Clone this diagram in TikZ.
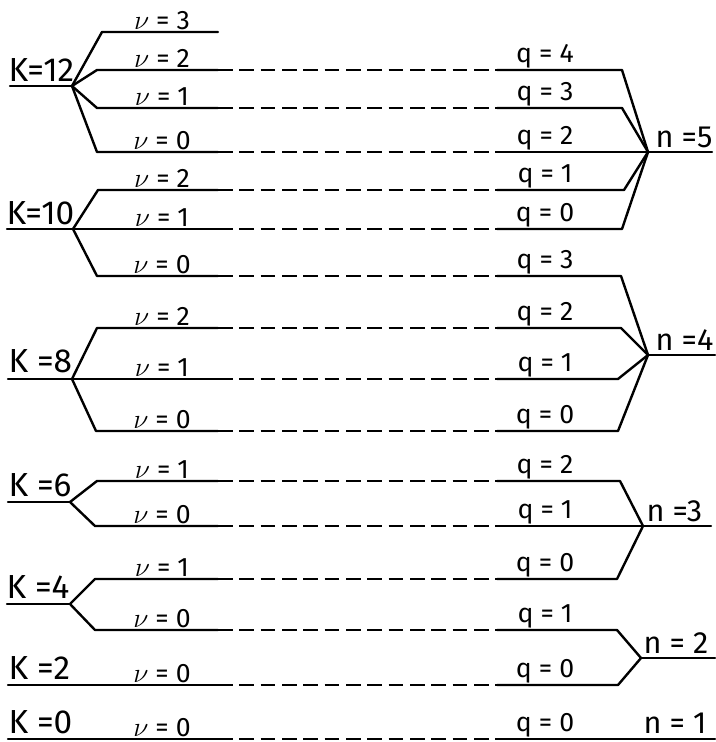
\documentclass[tikz,border=0pt]{standalone}
\usepackage{fontspec}
\setmainfont{Fira Sans}

\tikzset{
  branch/.style={line width=1.8pt, line cap=round, line join=round},
  dashline/.style={line width=1.4pt, dash pattern=on 11pt off 5pt},
  nulabel/.style={anchor=south, inner sep=1.5pt, font=\fontsize{20}{20}\selectfont},
  klabel/.style={anchor=south west, inner sep=1pt, font=\fontsize{25}{25}\selectfont},
  nlabel/.style={anchor=south west, inner sep=1pt, font=\fontsize{23}{23}\selectfont},
}

\begin{document}
\begin{tikzpicture}[x=0.75pt,y=-0.75pt]
    \useasboundingbox (0,0) rectangle (715,742);

    % Rows: index / height / left bend / right bend
    \foreach \r/\y/\a/\b in {1/70/97/622, 2/108/97/622, 3/152/97/622,
        4/190/98/624, 5/229/97/622, 6/276/97/621, 7/328/97/621,
        8/379/97/618, 9/431/96/618, 10/481/97/620, 11/526/95/620,
        12/579/95/617, 13/630/95/617, 14/685/95/618, 15/739/95/618}{
        \coordinate (bl\r) at (\a,\y);
        \coordinate (L\r) at (218,\y);
        \coordinate (R\r) at (497,\y);
        \coordinate (br\r) at (\b,\y);
        \draw[dashline] (L\r) -- (R\r);
    }

    % Row labels (nu on the left, q on the right)
    \foreach \r/\y/\nv/\qv in {1/70/2/4, 2/108/1/3, 3/152/0/2, 4/190/2/1,
        5/229/1/0, 6/276/0/3, 7/328/2/2, 8/379/1/1, 9/431/0/0, 10/481/1/2,
        11/526/0/1, 12/579/1/0, 13/630/0/1, 14/685/0/0, 15/739/0/0}{
        \node[nulabel] (nu\r) at (162,\y) {$\nu$ = \nv};
        \node[nulabel] (q\r) at (545,\y) {q = \qv};
    }

    % K = 12 (extra top branch nu = 3)
    \coordinate (K12) at (72,86);
    \coordinate (s12) at (10,86);
    \coordinate (bl0) at (102,32);
    \coordinate (L0) at (218,32);
    \node[nulabel] (nu0) at (162,32) {$\nu$ = 3};
    \draw[branch] (s12) -- (K12);
    \foreach \r in {0,...,3}
        \draw[branch] (K12) -- (bl\r) -- (L\r);
    \node[klabel] (k12) at (7,83) {K=12};

    % K = 10
    \coordinate (K10) at (73,229);
    \coordinate (s10) at (7,229);
    \draw[branch] (s10) -- (K10);
    \foreach \r in {4,5,6}
        \draw[branch] (K10) -- (bl\r) -- (L\r);
    \node[klabel] (k10) at (5,226) {K=10};

    % K = 8
    \coordinate (K8) at (72,379);
    \coordinate (s8) at (8,379);
    \draw[branch] (s8) -- (K8);
    \foreach \r in {7,8,9}
        \draw[branch] (K8) -- (bl\r) -- (L\r);
    \node[klabel] (k8) at (7,374) {K =8};

    % K = 6
    \coordinate (K6) at (70,502);
    \coordinate (s6) at (8,502);
    \draw[branch] (s6) -- (K6);
    \foreach \r in {10,11}
        \draw[branch] (K6) -- (bl\r) -- (L\r);
    \node[klabel] (k6) at (7,498) {K =6};

    % K = 4
    \coordinate (K4) at (70,604);
    \coordinate (s4) at (7,604);
    \draw[branch] (s4) -- (K4);
    \foreach \r in {12,13}
        \draw[branch] (K4) -- (bl\r) -- (L\r);
    \node[klabel] (k4) at (5,600) {K =4};

    % K = 2 and K = 0 (single level)
    \coordinate (s2) at (8,685);
    \coordinate (s0) at (8,739);
    \draw[branch] (s2) -- (L14);
    \draw[branch] (s0) -- (L15);
    \node[klabel] (k2) at (7,681) {K =2};
    \node[klabel] (k0) at (7,735) {K =0};

    % n = 5
    \coordinate (n5) at (648,152);
    \coordinate (e5) at (712,152);
    \foreach \r in {1,...,5}
        \draw[branch] (R\r) -- (br\r) -- (n5);
    \draw[branch] (n5) -- (e5);
    \node[nlabel] (n5l) at (654,149) {n =5};

    % n = 4
    \coordinate (n4) at (648,355);
    \coordinate (e4) at (715,355);
    \foreach \r in {6,...,9}
        \draw[branch] (R\r) -- (br\r) -- (n4);
    \draw[branch] (n4) -- (e4);
    \node[nlabel] (n4l) at (654,352) {n =4};

    % n = 3
    \coordinate (n3) at (643,526);
    \coordinate (e3) at (711,526);
    \foreach \r in {10,11,12}
        \draw[branch] (R\r) -- (br\r) -- (n3);
    \draw[branch] (n3) -- (e3);
    \node[nlabel] (n3l) at (645,523) {n =3};

    % n = 2
    \coordinate (n2) at (641,658);
    \coordinate (e2) at (715,658);
    \foreach \r in {13,14}
        \draw[branch] (R\r) -- (br\r) -- (n2);
    \draw[branch] (n2) -- (e2);
    \node[nlabel] (n2l) at (642,655) {n = 2};

    % n = 1 (single level)
    \coordinate (e1) at (715,739);
    \draw[branch] (R15) -- (e1);
    \node[nlabel] (n1l) at (642,735) {n = 1};
\end{tikzpicture}
\end{document}
